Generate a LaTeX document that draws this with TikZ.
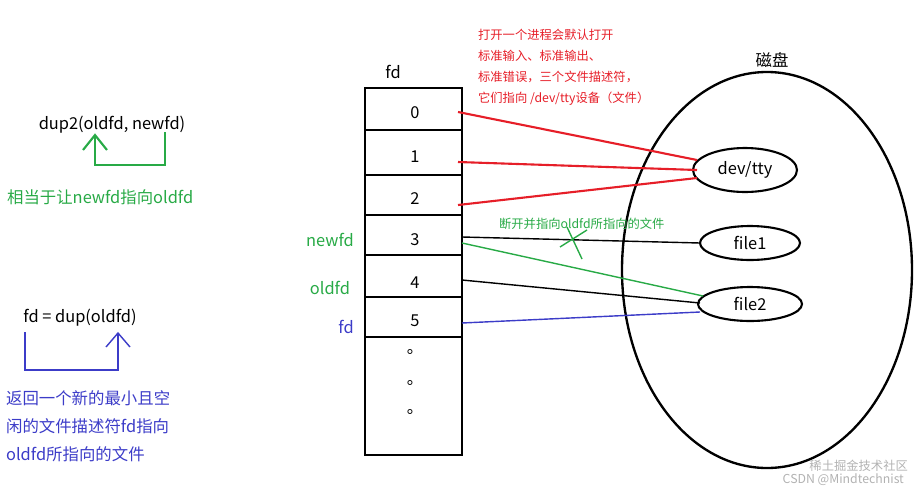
\documentclass[tikz,border=0pt]{standalone}
\usepackage{fontspec}
\setmainfont{Liberation Sans}
\newfontfamily\cjk{Noto Sans CJK SC}
\begin{document}
\begin{tikzpicture}[x=0.03cm,y=-0.03cm,
  lbl/.style={font=\fontsize{14}{16}\selectfont\cjk},
  sm/.style={font=\fontsize{10.5}{12}\selectfont\cjk},
  thk/.style={line width=1.2pt},
]
\definecolor{gg}{RGB}{40,170,70}
\definecolor{bb}{RGB}{60,60,200}
\definecolor{rr}{RGB}{230,30,40}
\useasboundingbox (0,0) rectangle (922,494);
% table
\draw[thk] (365,88) rectangle (462,455);
\foreach \y in {130,175,215,255,297,337} \draw[thk] (365,\y) -- (462,\y);
\foreach \t/\y [count=\i] in {0/113,1/157,2/199,3/240,4/283,5/321}
  \node[lbl] (r\i) at (415,\y) {\t};
\foreach \y [count=\i] in {352,383,412} \node[lbl] (d\i) at (415,\y) {。};
\node[lbl] (fdh) at (393,72) {fd};
% disk
\draw[line width=2pt] (767,270) ellipse [x radius=145, y radius=198];
\node[lbl] (disk) at (772,60) {磁盘};
\node[lbl] (tty) at (745,170) {dev/tty};
\draw[line width=1.8pt] (745,170) ellipse [x radius=52, y radius=22];
\node[lbl] (f1) at (750,243) {file1};
\draw[line width=1.8pt] (750,243) ellipse [x radius=50, y radius=17];
\node[lbl] (f2) at (750,304) {file2};
\draw[line width=1.8pt] (750,304) ellipse [x radius=52, y radius=17];
\coordinate (t1) at (697,160); \coordinate (t2) at (697,170); \coordinate (t3) at (697,178);
\coordinate (a0) at (458,112); \coordinate (a1) at (458,162); \coordinate (a2) at (458,205);
\draw[rr,line width=1.8pt] (a0) -- (t1); \draw[rr,line width=1.8pt] (a1) -- (t2); \draw[rr,line width=1.8pt] (a2) -- (t3);
\coordinate (b3) at (462,237); \coordinate (e1) at (700,243);
\coordinate (g3) at (462,243); \coordinate (e2) at (703,296);
\coordinate (b4) at (462,280); \coordinate (e3) at (700,303);
\coordinate (b5) at (462,323); \coordinate (e4) at (700,312);
\draw[thk] (b3) -- (e1);
\draw[gg,thk] (g3) -- (e2);
\draw[thk] (b4) -- (e3);
\draw[bb,thk] (b5) -- (e4);
\draw[gg,thk] (567,227) -- (582,259); \draw[gg,thk] (560,247) -- (587,230);
\node[sm,text=gg,anchor=west] (cut) at (495,224) {断开并指向oldfd所指向的文件};
\node[sm,text=rr,anchor=west,align=left] (note) at (474,67) {打开一个进程会默认打开\\[6pt]标准输入、标准输出、\\[6pt]标准错误，三个文件描述符，\\[6pt]它们指向 /dev/tty设备（文件）};
\node[lbl,text=gg] (nfd) at (330,240) {newfd};
\node[lbl,text=gg] (ofd) at (330,288) {oldfd};
\node[lbl,text=bb] (fdl) at (346,327) {fd};
% left
\node[lbl] (dup2) at (112,125) {dup2(oldfd, newfd)};
\coordinate (p1) at (165,132); \coordinate (p2) at (165,165); \coordinate (p3) at (95,165); \coordinate (p4) at (95,135);
\draw[gg,line width=1.8pt] (p1) -- (p2) -- (p3) -- (p4);
\draw[gg,line width=1.8pt] (83,150) -- (95,135) -- (107,150);
\node[lbl,text=gg,anchor=west] (eq) at (3,197) {相当于让newfd指向oldfd};
\node[lbl] (dup) at (80,318) {fd = dup(oldfd)};
\coordinate (q1) at (25,332); \coordinate (q2) at (25,370); \coordinate (q3) at (118,370); \coordinate (q4) at (118,333);
\draw[bb,thk] (q1) -- (q2) -- (q3) -- (q4);
\draw[bb,thk] (106,347) -- (118,333) -- (130,347);
\node[lbl,text=bb,anchor=west,align=left] (ret) at (2,426) {返回一个新的最小且空\\[8pt]闲的文件描述符fd指向\\[8pt]oldfd所指向的文件};
\node[sm,text=gray!60,anchor=east] (wm1) at (912,466) {稀土掘金技术社区};
\node[sm,text=gray!60,anchor=east] (wm2) at (908,480) {CSDN @Mindtechnist};
\end{tikzpicture}
\end{document}
